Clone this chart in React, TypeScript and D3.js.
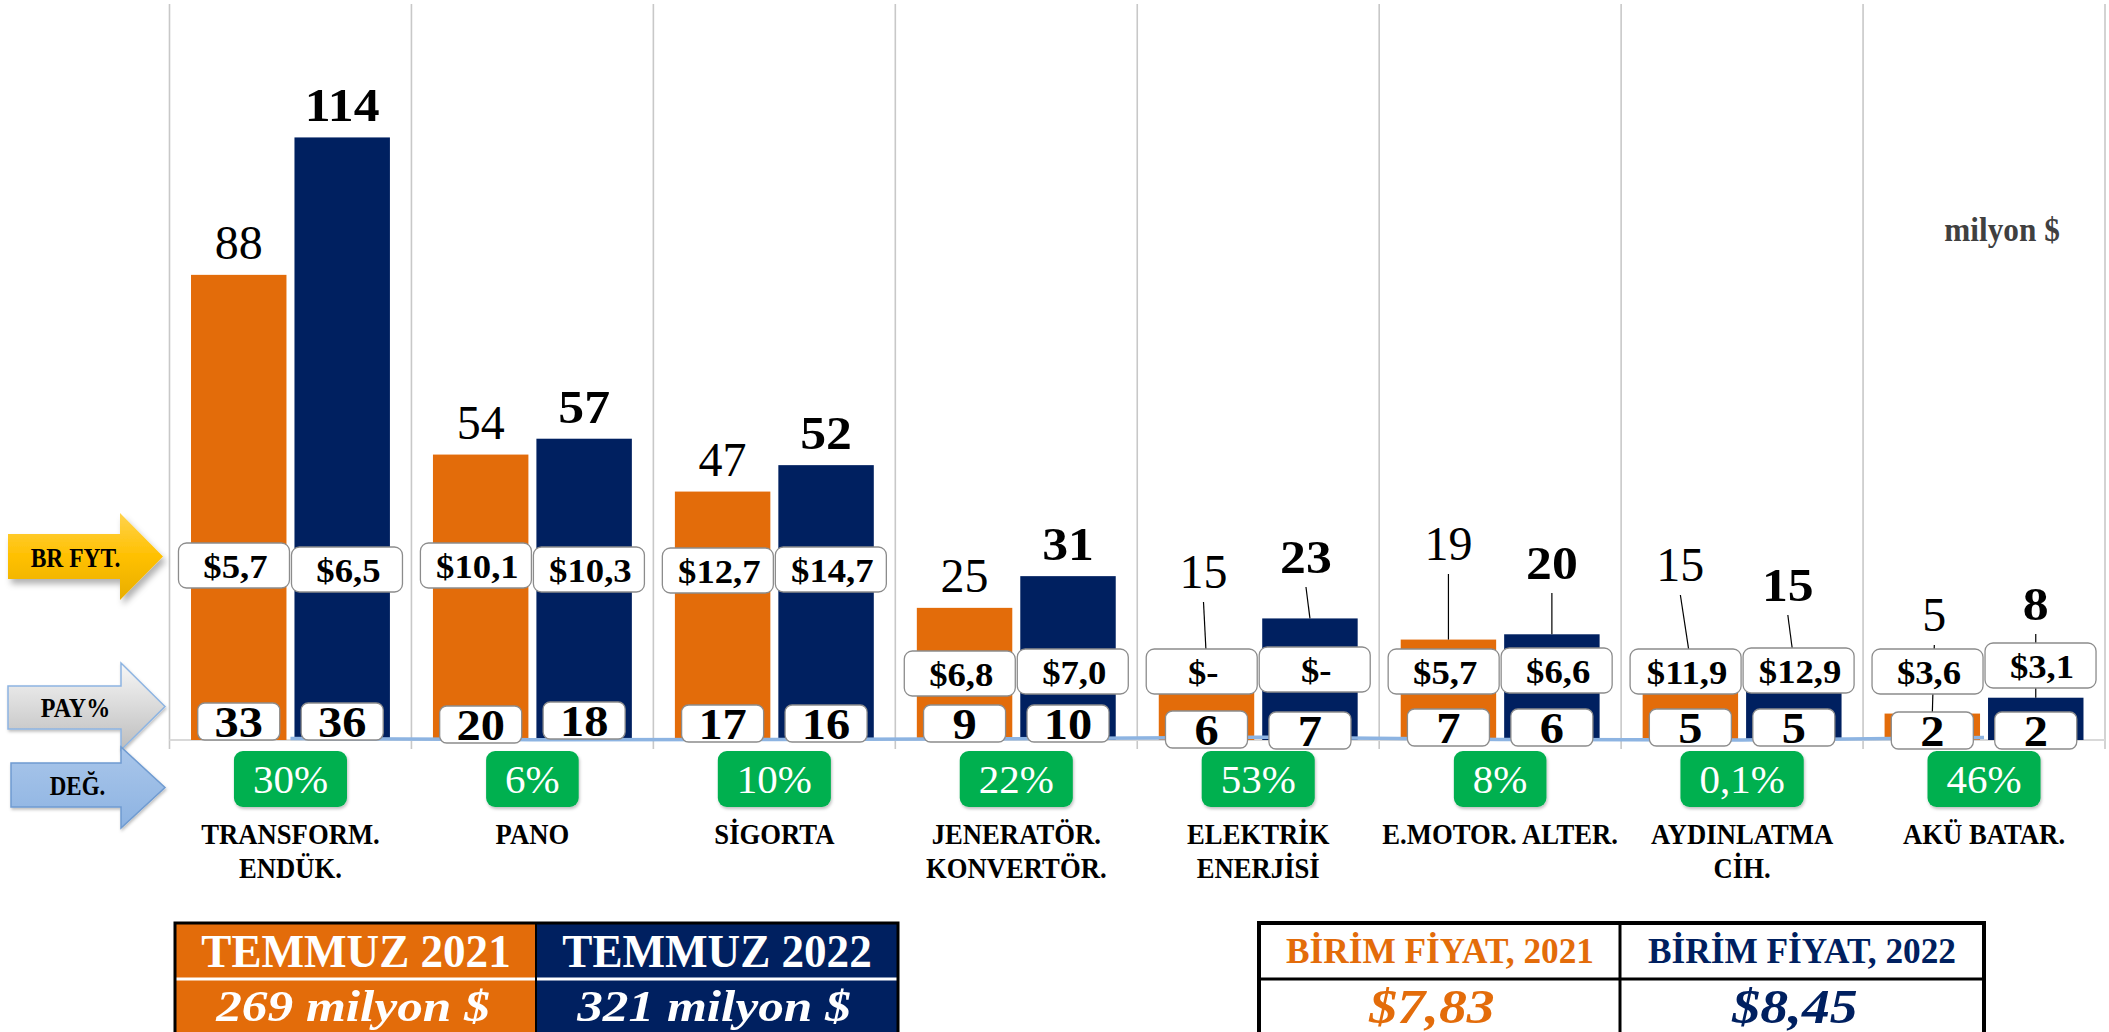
import React from "react";
import * as d3 from "d3";

// ---------- data ----------
const categories = [
  "TRANSFORM.\nENDÜK.",
  "PANO",
  "SİGORTA",
  "JENERATÖR.\nKONVERTÖR.",
  "ELEKTRİK\nENERJİSİ",
  "E.MOTOR. ALTER.",
  "AYDINLATMA\nCİH.",
  "AKÜ BATAR.",
];
const seriesKeys = ["2021", "2022"];
const values2021 = [88, 54, 47, 25, 15, 19, 15, 5];
const values2022 = [114, 57, 52, 31, 23, 20, 15, 8];
const unitPrice2021 = ["$5,7", "$10,1", "$12,7", "$6,8", "$-", "$5,7", "$11,9", "$3,6"];
const unitPrice2022 = ["$6,5", "$10,3", "$14,7", "$7,0", "$-", "$6,6", "$12,9", "$3,1"];
const share2021 = [33, 20, 17, 9, 6, 7, 5, 2];
const share2022 = [36, 18, 16, 10, 7, 6, 5, 2];
const changePct = [30, 6, 10, 22, 53, 8, 0.1, 46];
const totalHeaders = ["TEMMUZ 2021", "TEMMUZ 2022"];
const totalValues = ["269 milyon $", "321 milyon $"];
const priceHeaders = ["BİRİM FİYAT, 2021", "BİRİM FİYAT, 2022"];
const priceValues = ["$7,83", "$8,45"];
const rowLabels = ["BR FYT.", "PAY%", "DEĞ."];
const unitLabel = "milyon $";

// ---------- layout (manual label placement, as in the original) ----------
const priceBoxTop2021 = [543, 543, 548, 651, 649, 649, 649, 649];
const priceBoxTop2022 = [547, 547, 547, 649, 647, 648, 648, 643];
const shareBoxTop2021 = [703, 706, 705, 705, 711, 709, 709, 712];
const shareBoxTop2022 = [703, 702, 705, 705, 712, 709, 709, 712];
const movedLabel2021: (number | null)[] = [null, null, null, null, 588, 560, 581, 631];
const movedLabel2022: (number | null)[] = [null, null, null, null, 573, 579, 601, 620];
const labelDx2021 = [0, 0, 0, 0, -3, 0, -10, 2];
const labelDx2022 = [0, 0, 0, 0, -4, 0, -6, 0];

const ORANGE = "#E36C0A";
const NAVY = "#002060";
const GREEN = "#00B050";
const FONT = "'Liberation Serif', 'Times New Roman', serif";

function arrowPoints(x0: number, bt: number, bb: number, hx: number, ht: number, hb: number, tip: number) {
  const cy = (ht + hb) / 2;
  return [
    [x0, bt], [hx, bt], [hx, ht], [tip, cy], [hx, hb], [hx, bb], [x0, bb],
  ].map((p) => p.join(",")).join(" ");
}

function T(props: any) {
  const { x, y, sx = 1, children, ...rest } = props;
  return (
    <text transform={`translate(${x},${y}) scale(${sx},1)`} textAnchor="middle" {...rest}>
      {children}
    </text>
  );
}

export default function App() {
  const W = 2109;
  const H = 1032;
  const x = d3.scaleBand<string>().domain(categories).range([169.5, 2105]);
  const xs = d3
    .scaleBand<string>()
    .domain(seriesKeys)
    .range([0, x.bandwidth()])
    .paddingInner(0.0773)
    .paddingOuter(0.208);
  const y = d3.scaleLinear().domain([0, 140]).range([740, 0]);
  const bw = xs.bandwidth();

  const series = [
    { key: "2021", values: values2021, color: ORANGE, price: unitPrice2021, share: share2021, priceTop: priceBoxTop2021, shareTop: shareBoxTop2021, moved: movedLabel2021, dx: labelDx2021, weight: 400, fs: 48, sx: 1.0 },
    { key: "2022", values: values2022, color: NAVY, price: unitPrice2022, share: share2022, priceTop: priceBoxTop2022, shareTop: shareBoxTop2022, moved: movedLabel2022, dx: labelDx2022, weight: 700, fs: 47, sx: 1.1 },
  ];

  const bounds = [...categories.map((c) => x(c)!), 2105];
  const line = d3
    .line<number>()
    .x((_, i) => x(categories[i])! + x.bandwidth() / 2)
    .y((d) => y(d / 100));

  const fmtPct = (v: number) => String(v).replace(".", ",") + "%";
  const pctWidth = (s: string) => {
    let w = 0;
    for (const ch of s) w += ch === "%" ? 0.833 : ch === "," ? 0.25 : 0.5;
    return w * 39 * 1.05 + 38;
  };

  return (
    <svg
      width={W}
      height={H}
      style={{ position: "fixed", left: 0, top: 0, background: "#fff" }}
      fontFamily={FONT}
    >
      <defs>
        <linearGradient id="gold" x1="0" y1="0" x2="0" y2="1">
          <stop offset="0" stopColor="#FFD34D" />
          <stop offset="0.5" stopColor="#FFC000" />
          <stop offset="1" stopColor="#E8AE00" />
        </linearGradient>
        <linearGradient id="silver" x1="0" y1="0" x2="0" y2="1">
          <stop offset="0" stopColor="#F7F7F7" />
          <stop offset="1" stopColor="#BDBDBD" />
        </linearGradient>
        <linearGradient id="blue" x1="0" y1="0" x2="0" y2="1">
          <stop offset="0" stopColor="#A9C6EA" />
          <stop offset="1" stopColor="#8DB3E2" />
        </linearGradient>
        <filter id="shadow" x="-20%" y="-20%" width="140%" height="150%">
          <feDropShadow dx="3" dy="5" stdDeviation="3" floodColor="#000" floodOpacity="0.3" />
        </filter>
        <filter id="shadowSm" x="-20%" y="-20%" width="140%" height="150%">
          <feDropShadow dx="1" dy="2" stdDeviation="1.5" floodColor="#000" floodOpacity="0.25" />
        </filter>
      </defs>
      <rect width={W} height={H} fill="#fff" />

      {/* gridlines */}
      {bounds.map((bx, i) => (
        <line key={"g" + i} x1={bx} x2={bx} y1={4} y2={749} stroke="#C8C8C8" strokeWidth={1.6} />
      ))}
      <line x1={169.5} x2={2105} y1={740} y2={740} stroke="#D9D9D9" strokeWidth={2} />

      {/* bars */}
      {series.map((s) =>
        s.values.map((v, i) => (
          <rect
            key={s.key + i}
            x={x(categories[i])! + xs(s.key)!}
            y={y(v)}
            width={bw}
            height={y(0) - y(v)}
            fill={s.color}
          />
        ))
      )}

      {/* value labels with leader lines */}
      {series.map((s) =>
        s.values.map((v, i) => {
          const cx = x(categories[i])! + xs(s.key)! + bw / 2;
          const moved = s.moved[i];
          const ly = moved ?? y(v) - 16;
          const lx = cx + s.dx[i];
          return (
            <g key={"l" + s.key + i}>
              {moved != null && (
                <line x1={lx} y1={ly + 14} x2={cx} y2={y(v)} stroke="#000" strokeWidth={1.2} />
              )}
              <T x={lx} y={ly} sx={s.sx} fontSize={s.fs} fontWeight={s.weight} fill="#000">
                {v}
              </T>
            </g>
          );
        })
      )}

      {/* change line */}
      <path d={line(changePct) || ""} fill="none" stroke="#8DB4E2" strokeWidth={3.5} />

      {/* unit price boxes */}
      {series.map((s, si) =>
        s.price.map((p, i) => {
          const c = x(categories[i])! + x.bandwidth() / 2;
          const bx = si === 0 ? c - 112 : c + 1;
          const top = s.priceTop[i];
          return (
            <g key={"p" + s.key + i}>
              <rect x={bx} y={top} width={111} height={45} rx={8} fill="#fff" stroke="#8C8C8C" strokeWidth={1.3} />
              <T x={bx + 57} y={top + 35} sx={1.08} fontSize={34} fontWeight={700} fill="#000">
                {p}
              </T>
            </g>
          );
        })
      )}

      {/* share boxes */}
      {series.map((s) =>
        s.share.map((v, i) => {
          const cx = x(categories[i])! + xs(s.key)! + bw / 2;
          const top = s.shareTop[i];
          return (
            <g key={"s" + s.key + i}>
              <rect x={cx - 41} y={top} width={82} height={37} rx={7} fill="#fff" stroke="#8C8C8C" strokeWidth={1.3} />
              <T x={cx} y={top + 34} sx={1.1} fontSize={44} fontWeight={700} fill="#000">
                {v}
              </T>
            </g>
          );
        })
      )}

      {/* change boxes */}
      {changePct.map((v, i) => {
        const c = x(categories[i])! + x.bandwidth() / 2;
        const t = fmtPct(v);
        const w = pctWidth(t);
        return (
          <g key={"c" + i}>
            <rect x={c - w / 2} y={751} width={w} height={56} rx={9} fill={GREEN} filter="url(#shadowSm)" />
            <T x={c} y={793} sx={1.05} fontSize={39} fill="#fff">
              {t}
            </T>
          </g>
        );
      })}

      {/* category labels */}
      {categories.map((c, i) => {
        const cx = x(c)! + x.bandwidth() / 2;
        return c.split("\n").map((ln, j) => (
          <T key={"t" + i + j} x={cx} y={844 + j * 34} sx={0.92} fontSize={29} fontWeight={700} fill="#000">
            {ln}
          </T>
        ));
      })}

      {/* row arrows */}
      <polygon points={arrowPoints(8, 534, 579, 120, 513, 600, 163)} fill="url(#gold)" filter="url(#shadow)" />
      <T x={75.5} y={567} sx={0.84} fontSize={28} fontWeight={700} fill="#000">
        {rowLabels[0]}
      </T>
      <polygon points={arrowPoints(8, 686, 729, 121, 663, 750, 165)} fill="url(#silver)" stroke="#8DB4E2" strokeWidth={1.5} filter="url(#shadowSm)" />
      <T x={75.5} y={717} sx={0.89} fontSize={27} fontWeight={700} fill="#000">
        {rowLabels[1]}
      </T>
      <polygon points={arrowPoints(11, 763, 807, 121, 747, 828, 165)} fill="url(#blue)" stroke="#6F9BD1" strokeWidth={1.5} filter="url(#shadowSm)" />
      <T x={77.5} y={795} sx={0.85} fontSize={27} fontWeight={700} fill="#000">
        {rowLabels[2]}
      </T>

      {/* unit label */}
      <T x={2002} y={241} sx={0.92} fontSize={34} fontWeight={700} fill="#404040">
        {unitLabel}
      </T>

      {/* totals table */}
      <g>
        <rect x={175} y={923} width={361} height={120} fill={ORANGE} />
        <rect x={536} y={923} width={362} height={120} fill={NAVY} />
        <line x1={176} x2={897} y1={979} y2={979} stroke="#fff" strokeWidth={3} />
        <rect x={175} y={923} width={723} height={120} fill="none" stroke="#000" strokeWidth={3} />
        <line x1={536} x2={536} y1={923} y2={1040} stroke="#000" strokeWidth={2} />
        {totalHeaders.map((t, i) => (
          <T key={"th" + i} x={i === 0 ? 356 : 717} y={967} sx={0.96} fontSize={47} fontWeight={700} fill="#fff">
            {t}
          </T>
        ))}
        {totalValues.map((t, i) => (
          <T key={"tv" + i} x={i === 0 ? 353 : 714} y={1021} sx={1.14} fontSize={45} fontWeight={700} fontStyle="italic" fill="#fff">
            {t}
          </T>
        ))}
      </g>

      {/* unit price table */}
      <g>
        <rect x={1259} y={923} width={725} height={120} fill="#fff" stroke="#000" strokeWidth={4} />
        <line x1={1259} x2={1984} y1={979} y2={979} stroke="#000" strokeWidth={3} />
        <line x1={1620} x2={1620} y1={923} y2={1040} stroke="#000" strokeWidth={3} />
        {priceHeaders.map((t, i) => (
          <T key={"ph" + i} x={i === 0 ? 1440 : 1802} y={963} sx={0.98} fontSize={36} fontWeight={700} fill={i === 0 ? ORANGE : NAVY}>
            {t}
          </T>
        ))}
        {priceValues.map((t, i) => (
          <T key={"pv" + i} x={i === 0 ? 1432 : 1795} y={1023} sx={1.16} fontSize={48} fontWeight={700} fontStyle="italic" fill={i === 0 ? ORANGE : NAVY}>
            {t}
          </T>
        ))}
      </g>
    </svg>
  );
}
